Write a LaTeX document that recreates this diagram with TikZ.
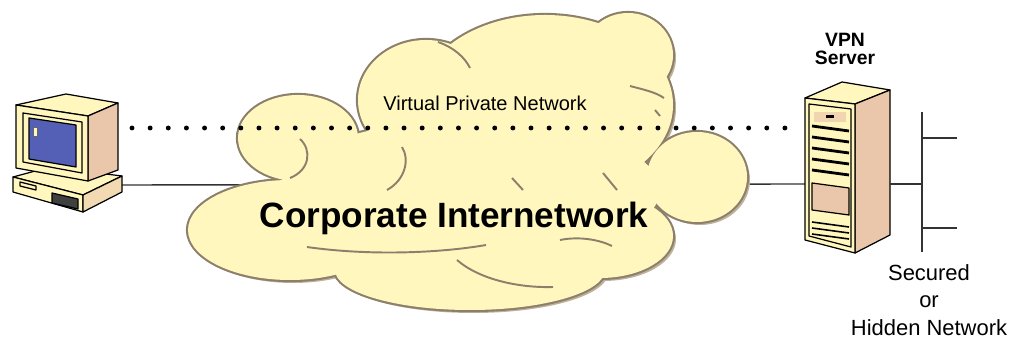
\documentclass[tikz,border=0pt]{standalone}
\usepackage{fontspec}
\setmainfont{Liberation Sans}
\usetikzlibrary{positioning}

\definecolor{cream}{RGB}{255,247,190}
\definecolor{peach}{RGB}{234,198,170}
\definecolor{cloudline}{RGB}{140,128,108}
\definecolor{cloudshade}{RGB}{190,178,154}
\definecolor{screenblue}{RGB}{84,96,182}

% cloud lobes: centre x / centre y / x radius / y radius
\def\lobes{290/230/102/50, 298/138/60/43, 426/100/68/60, 545/105/128/90,
  628/55/45/42, 697/177/50/45, 600/236/73/42, 470/270/135/40, 470/190/190/70}

\begin{document}
\begin{tikzpicture}[x=0.02cm, y=-0.02cm,
    wire/.style={draw=black!80, line width=0.8pt},
    hw/.style={draw=black, line width=0.7pt, line join=round},
    tunnel/.style={line width=2.8pt, line cap=round, dash pattern=on 0pt off 0.3628cm},
    inner/.style={draw=cloudline, line width=1.1pt},
    lbl/.style={inner sep=0pt, align=center}
  ]
  \useasboundingbox (0,0) rectangle (1016,340);

  % end points of the links
  \coordinate (pc) at (122,185);
  \coordinate (srvin) at (805,184);
  \coordinate (srvout) at (890,184);
  \coordinate (bustop) at (922,112);
  \coordinate (busbot) at (922,252);
  \coordinate (tapa) at (922,138);
  \coordinate (tapb) at (922,228);
  \coordinate (vpnL) at (132,128);
  \coordinate (vpnR) at (785.5,128);

  % link from client to server, runs under the cloud
  \draw[wire] (pc) -- (srvin);

  % cloud: shadow, rim, then fill
  \foreach \cx/\cy/\rx/\ry in \lobes
    \fill[cloudshade] (\cx+3,\cy+3) ellipse [x radius=\rx, y radius=\ry];
  \foreach \cx/\cy/\rx/\ry in \lobes
    \draw[cloudline, line width=2.4pt] (\cx,\cy) ellipse [x radius=\rx, y radius=\ry];
  \foreach \cx/\cy/\rx/\ry in \lobes
    \fill[cream] (\cx,\cy) ellipse [x radius=\rx, y radius=\ry];
  % folds inside the cloud
  \draw[inner] (300,139) .. controls (312,150) and (310,170) .. (290,178);
  \draw[inner] (402,147) .. controls (410,160) and (405,180) .. (387,190);
  \draw[inner] (512,178) -- (523,190);
  \draw[inner] (603,173) -- (617,190);
  \draw[inner] (307,247) .. controls (370,256) and (440,253) .. (486,245);
  \draw[inner] (457,260) .. controls (480,280) and (520,288) .. (553,287);
  \draw[inner] (438,42) .. controls (455,48) and (465,58) .. (470,68);
  \draw[inner] (630,86) .. controls (645,90) and (655,92) .. (664,98);
  \draw[inner] (655,110) -- (660,116);
  \draw[inner] (560,240) .. controls (580,236) and (600,240) .. (612,246);

  % client computer: base
  \filldraw[hw, fill=cream] (13,177) -- (50,167) -- (122,176) -- (83,195) -- cycle;
  \filldraw[hw, fill=cream] (13,177) -- (83,195) -- (83,212) -- (13,192) -- cycle;
  \filldraw[hw, fill=peach!60!cream] (83,195) -- (122,176) -- (122,192) -- (83,212) -- cycle;
  \filldraw[hw, fill=cream] (20,182) -- (36,186) -- (36,190) -- (20,186) -- cycle;
  \filldraw[hw, fill=black!75] (52,193) -- (78,199) -- (78,209) -- (52,203) -- cycle;
  % client computer: monitor
  \filldraw[hw, fill=cream] (16,105) -- (66,94) -- (118,103) -- (88,116) -- cycle;
  \filldraw[hw, fill=peach] (88,116) -- (118,103) -- (118,170) -- (88,181) -- cycle;
  \filldraw[hw, fill=cream] (16,105) -- (88,116) -- (88,181) -- (16,168) -- cycle;
  \draw[hw] (23,113) -- (82,122) -- (82,173) -- (23,162) -- cycle;
  \filldraw[hw, fill=screenblue] (29,118) -- (76,125) -- (76,167) -- (29,159) -- cycle;
  \filldraw[draw=black!60, fill=cream] (33,127) rectangle (37,136);

  % VPN server cabinet
  \filldraw[hw, fill=cream] (805,98) -- (842,82) -- (890,90) -- (855,104) -- cycle;
  \filldraw[hw, fill=peach] (855,104) -- (890,90) -- (890,235) -- (855,253) -- cycle;
  \filldraw[hw, fill=cream] (805,98) -- (855,104) -- (855,253) -- (805,240) -- cycle;
  \draw[hw] (809,104) -- (851,109) -- (851,247) -- (809,236) -- cycle;
  \fill[peach!70!cream] (814,112) rectangle (846,122);
  \fill[black] (826,115) rectangle (834,118);
  \foreach \y in {126,137,148,159,170}
    \draw[black, line width=1.6pt] (812,\y) -- (849,\y+5);
  \filldraw[hw, fill=peach] (812,183) -- (849,188) -- (849,215) -- (812,210) -- cycle;
  \foreach \y in {222,228,234}
    \draw[black, line width=0.9pt] (812,\y) -- (849,\y+5);

  % links on the secured side
  \draw[wire] (srvout) -- (tapa |- srvout);
  \draw[wire] (bustop) -- (busbot);
  \draw[wire] (tapa) -- ++(35,0);
  \draw[wire] (tapb) -- ++(35,0);

  % tunnel through the cloud
  \draw[tunnel] (vpnL) -- (vpnR);

  % labels
  \node[lbl, font=\fontsize{11.4}{13}\selectfont] (vpnlabel) at (485,103) {Virtual Private Network};
  \node[lbl, font=\fontsize{20}{24}\selectfont\bfseries] (corp) at (454,218) {Corporate Internetwork};
  \node[lbl, font=\fontsize{11}{10}\selectfont\bfseries] (srvlabel) at (845,49) {VPN\\Server};
  \node[lbl, font=\fontsize{12.5}{15.5}\selectfont] (secured) at (929,300) {Secured\\or\\Hidden Network};
\end{tikzpicture}
\end{document}
